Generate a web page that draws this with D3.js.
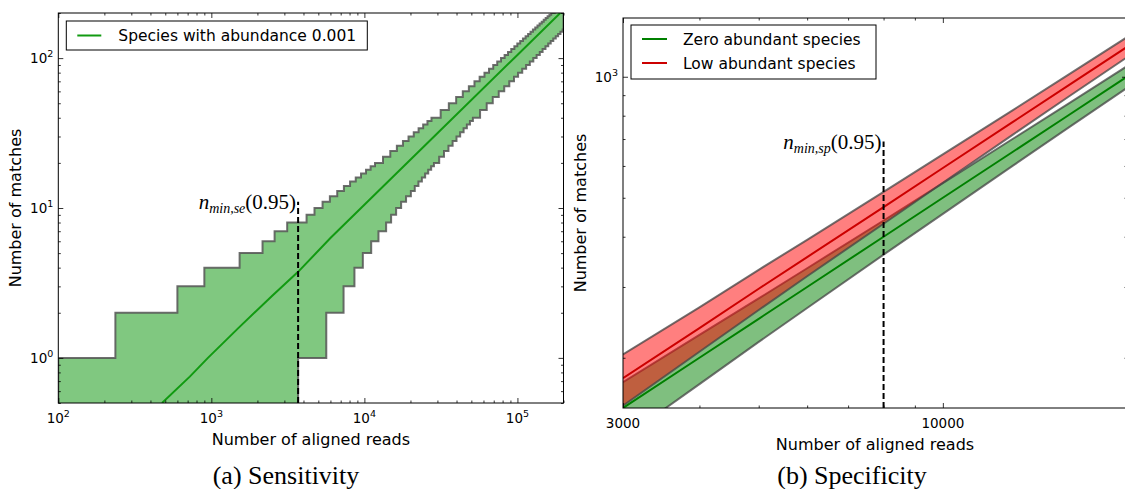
<!DOCTYPE html>
<html>
<head>
<meta charset="utf-8">
<script src="https://cdn.jsdelivr.net/npm/d3@7"></script>
<style>
  body { margin: 0; background: #fff; }
  text { font-family: "DejaVu Sans", sans-serif; fill: #000; }
  .serif { font-family: "Liberation Serif", "DejaVu Serif", serif; }
</style>
</head>
<body>
<svg id="chart" width="1125" height="489"></svg>
<script>
// ---- (a) Sensitivity data: [reads, matches] ----
const senseMean = [[476, 0.5], [723, 0.75], [950, 1.0], [1500, 1.58], [2500, 2.6], [3689, 3.75],
  [6000, 6.3], [10000, 10.5], [30000, 31.5], [100000, 105], [200000, 210]];
// upper step bound: value holds from reads[i] to reads[i+1]
const senseUpper = [[100, 1], [236, 2], [600, 3], [900, 4], [1530, 5], [2160, 6], [2590, 7], [3130, 8],
  [4190, 9], [4720, 10], [5330, 11], [5950, 12], [6645, 13], [7348, 14], [8060, 15], [8780, 16],
  [9507, 17], [10243, 18], [10982, 19], [11731, 20], [13238, 22], [14765, 24], [16301, 26],
  [17866, 28], [19430, 30], [21014, 32], [22608, 34], [24211, 36], [25824, 38], [27437, 40],
  [31507, 45], [35626, 50], [39773, 55], [43958, 60], [48154, 65], [52387, 70], [56630, 75],
  [60902, 80], [65184, 85], [69475, 90], [73786, 95], [78106, 100], [82464, 105], [86784, 110],
  [91104, 115], [95510, 120], [99840, 125], [104256, 130], [108672, 135], [113088, 140],
  [117408, 145], [121824, 150], [126240, 155], [130752, 160], [135168, 165], [139584, 170],
  [144096, 175], [148512, 180], [152928, 185], [157440, 190], [161856, 195], [166272, 200],
  [175296, 210], [184224, 220], [193152, 230], [200000, 230]];
// lower step bound (0 = below the axis)
const senseLower = [[100, 0], [3689, 1], [5636, 2], [7310, 3], [8610, 4], [9770, 5], [11080, 6],
  [12360, 7], [13870, 8], [14950, 9], [16120, 10], [17380, 11], [18720, 12], [20124, 13],
  [21341, 14], [22550, 15], [23750, 16], [24944, 17], [26129, 18], [27308, 19], [28481, 20],
  [30818, 22], [33130, 24], [35433, 26], [37716, 28], [39984, 30], [42243, 32], [44493, 34],
  [46733, 36], [48960, 38], [51180, 40], [57000, 45], [63000, 50], [69000, 55], [75500, 60],
  [82000, 65], [88500, 70], [95000, 75], [101000, 80], [107500, 85], [114000, 90], [120500, 95],
  [127000, 100], [133500, 105], [140000, 110], [146000, 115], [152500, 120], [159000, 125],
  [165000, 130], [171500, 135], [178000, 140], [184500, 145], [191000, 150], [197500, 155],
  [200000, 155]];
const senseThreshold = 3689;
const senseThresholdTop = 11;

// ---- (b) Specificity data ----
const specReads = [3000, 4000, 5000, 6000, 8000, 10000, 13000, 16000, 20000];
const zeroMean = [150, 200, 250, 300, 400, 500, 650, 800, 1000];
const zeroLow = [126, 172, 219, 266, 361, 456, 600, 745, 938];
const zeroHigh = [174, 228, 281, 334, 439, 544, 700, 855, 1062];
const lowMean = [178, 237, 297, 356, 474, 593, 771, 949, 1186];
const lowLow = [152, 207, 263, 319, 431, 545, 717, 889, 1118];
const lowHigh = [204, 267, 331, 393, 517, 641, 825, 1009, 1254];
const specThreshold = 8000;
const specThresholdTop = 690;

// ---- ticks ----
const senseXMajor = [1e2, 1e3, 1e4, 1e5];
const senseYMajor = [1e0, 1e1, 1e2];
const specXMajor = [3000, 10000];
const specYMajor = [1000];

const svg = d3.select("#chart");

const makePanel = (id, box, xDomain, yDomain) => {
  const w = box.x1 - box.x0;
  const h = box.y1 - box.y0;
  const g = svg.append("g").attr("transform", `translate(${box.x0},${box.y0})`);
  svg.append("clipPath").attr("id", id).append("rect").attr("width", w).attr("height", h)
    .attr("x", box.x0).attr("y", box.y0);
  const x = d3.scaleLog().domain(xDomain).range([0, w]);
  const y = d3.scaleLog().domain(yDomain).range([h, 0]);
  const plot = g.append("g").attr("clip-path", `url(#${id})`)
    .attr("transform", `translate(${-box.x0},${-box.y0})`)
    .append("g").attr("transform", `translate(${box.x0},${box.y0})`);
  return {g, plot, x, y, w, h};
};

const powLabel = (sel, v) => {
  const e = Math.round(Math.log10(v));
  sel.append("tspan").text("10");
  sel.append("tspan").attr("dy", -6).attr("font-size", 9.5).text(e);
};

const drawFrame = (p, xMajor, yMajor, xFmt, yFmt) => {
  const {g, x, y, w, h} = p;
  const xMinor = x.ticks().filter((t) => !xMajor.includes(t));
  const yMinor = y.ticks().filter((t) => !yMajor.includes(t));
  const tick = (axis, vals, len, tr) => {
    const a = g.append("g").attr("transform", tr)
      .call(axis.tickValues(vals).tickSize(-len).tickFormat(""));
    a.select(".domain").remove();
    a.selectAll("line").attr("stroke", "#000").attr("stroke-width", 0.8);
  };
  tick(d3.axisBottom(x), xMajor, 5, `translate(0,${h})`);
  tick(d3.axisBottom(x), xMinor, 2.5, `translate(0,${h})`);
  tick(d3.axisTop(x), xMajor, 5, null);
  tick(d3.axisTop(x), xMinor, 2.5, null);
  tick(d3.axisLeft(y), yMajor, 5, null);
  tick(d3.axisLeft(y), yMinor, 2.5, null);
  tick(d3.axisRight(y), yMajor, 5, `translate(${w},0)`);
  tick(d3.axisRight(y), yMinor, 2.5, `translate(${w},0)`);

  g.append("rect").attr("width", w).attr("height", h)
    .attr("fill", "none").attr("stroke", "#000").attr("stroke-width", 1);

  g.selectAll(".xl").data(xMajor).enter().append("text")
    .attr("x", (d) => x(d)).attr("y", h + 20)
    .attr("text-anchor", "middle").attr("font-size", 13.5)
    .each(function (d) { xFmt(d3.select(this), d); });
  g.selectAll(".yl").data(yMajor).enter().append("text")
    .attr("x", -5).attr("y", (d) => y(d) + 5)
    .attr("text-anchor", "end").attr("font-size", 13.5)
    .each(function (d) { yFmt(d3.select(this), d); });
};

const axisTitles = (p, box, yTitleX) => {
  svg.append("text").attr("x", (box.x0 + box.x1) / 2).attr("y", box.y1 + 42)
    .attr("text-anchor", "middle").attr("font-size", 16).text("Number of aligned reads");
  svg.append("text")
    .attr("transform", `translate(${yTitleX},${(box.y0 + box.y1) / 2}) rotate(-90)`)
    .attr("text-anchor", "middle").attr("font-size", 16).text("Number of matches");
};

const mathLabel = (g, xPos, yPos, sub) => {
  const t = g.append("text").attr("class", "serif").attr("x", xPos).attr("y", yPos)
    .attr("text-anchor", "end").attr("font-size", 21);
  t.append("tspan").attr("font-style", "italic").text("n");
  t.append("tspan").attr("font-style", "italic").attr("font-size", 14).attr("dy", 4).text(sub);
  t.append("tspan").attr("dy", -4).text("(0.95)");
};

// ================= (a) Sensitivity =================
const boxA = {x0: 58.3, x1: 563.5, y0: 13, y1: 403};
const pa = makePanel("clipA", boxA, [100, 2e5], [0.5, 200]);

// expand step arrays into polygon vertices
const steps = (pts) => {
  const out = [];
  pts.forEach((d, i) => {
    out.push(d);
    if (i < pts.length - 1) out.push([pts[i + 1][0], d[1]]);
  });
  return out;
};
const yA = (v) => (v > 0 ? pa.y(v) : pa.h + 20);
const bandPts = steps(senseUpper).concat(steps(senseLower).reverse());
pa.plot.append("path")
  .attr("d", d3.line().x((d) => pa.x(d[0])).y((d) => yA(d[1]))(bandPts) + "Z")
  .attr("fill", "#80c880")
  .attr("stroke", "#555")
  .attr("stroke-opacity", 0.85)
  .attr("stroke-width", 2)
  .attr("stroke-linejoin", "miter");

pa.plot.append("path")
  .attr("d", d3.line().x((d) => pa.x(d[0])).y((d) => pa.y(d[1]))(senseMean))
  .attr("fill", "none").attr("stroke", "#119a11").attr("stroke-width", 2);

pa.g.append("line")
  .attr("x1", pa.x(senseThreshold)).attr("x2", pa.x(senseThreshold))
  .attr("y1", pa.h).attr("y2", pa.y(senseThresholdTop))
  .attr("stroke", "#000").attr("stroke-width", 2).attr("stroke-dasharray", "6,3");
mathLabel(pa.g, pa.x(senseThreshold) - 2, pa.y(senseThresholdTop) + 7, "min,se");

drawFrame(pa, senseXMajor, senseYMajor, powLabel, powLabel);
axisTitles(pa, boxA, 21);

// legend (a)
const legA = pa.g.append("g").attr("transform", "translate(8,8)");
legA.append("rect").attr("width", 301).attr("height", 29)
  .attr("fill", "#fff").attr("stroke", "#000").attr("stroke-width", 1);
legA.append("line").attr("x1", 11).attr("x2", 35).attr("y1", 14.5).attr("y2", 14.5)
  .attr("stroke", "#119a11").attr("stroke-width", 2);
legA.append("text").attr("x", 52).attr("y", 20).attr("font-size", 15.5)
  .text("Species with abundance 0.001");

// ================= (b) Specificity =================
const boxB = {x0: 623, x1: 1127, y0: 18, y1: 408};
const pb = makePanel("clipB", boxB, [3000, 20000], [150, 1400]);

const bands = [
  {mean: zeroMean, lo: zeroLow, hi: zeroHigh, fill: "rgba(0,128,0,0.5)", line: "#008000"},
  {mean: lowMean, lo: lowLow, hi: lowHigh, fill: "rgba(255,0,0,0.5)", line: "#cc0000"},
];
const idx = specReads.map((d, i) => i);
bands.forEach((b) => {
  pb.plot.append("path")
    .attr("d", d3.area().x((i) => pb.x(specReads[i])).y0((i) => pb.y(b.lo[i])).y1((i) => pb.y(b.hi[i]))(idx))
    .attr("fill", b.fill);
  [b.lo, b.hi].forEach((edge) => {
    pb.plot.append("path")
      .attr("d", d3.line().x((i) => pb.x(specReads[i])).y((i) => pb.y(edge[i]))(idx))
      .attr("fill", "none").attr("stroke", "#444").attr("stroke-opacity", 0.75).attr("stroke-width", 2);
  });
});
bands.forEach((b) => {
  pb.plot.append("path")
    .attr("d", d3.line().x((i) => pb.x(specReads[i])).y((i) => pb.y(b.mean[i]))(idx))
    .attr("fill", "none").attr("stroke", b.line).attr("stroke-width", 2);
});

pb.g.append("line")
  .attr("x1", pb.x(specThreshold)).attr("x2", pb.x(specThreshold))
  .attr("y1", pb.h).attr("y2", pb.y(specThresholdTop))
  .attr("stroke", "#000").attr("stroke-width", 2).attr("stroke-dasharray", "6,3");
mathLabel(pb.g, pb.x(specThreshold) - 2, pb.y(specThresholdTop) + 7, "min,sp");

drawFrame(pb, specXMajor, specYMajor, (s, d) => s.text(d), powLabel);
axisTitles(pb, boxB, 586);

// legend (b)
const legB = pb.g.append("g").attr("transform", "translate(8,7)");
legB.append("rect").attr("width", 245).attr("height", 54)
  .attr("fill", "#fff").attr("stroke", "#000").attr("stroke-width", 1);
[["Zero abundant species", "#008000"], ["Low abundant species", "#cc0000"]].forEach(([label, c], i) => {
  legB.append("line").attr("x1", 11).attr("x2", 36).attr("y1", 14 + i * 24).attr("y2", 14 + i * 24)
    .attr("stroke", c).attr("stroke-width", 2);
  legB.append("text").attr("x", 52).attr("y", 19.5 + i * 24).attr("font-size", 15.5).text(label);
});

// captions
svg.append("text").attr("class", "serif").attr("x", 286).attr("y", 484)
  .attr("text-anchor", "middle").attr("font-size", 26).text("(a) Sensitivity");
svg.append("text").attr("class", "serif").attr("x", 852).attr("y", 484)
  .attr("text-anchor", "middle").attr("font-size", 26).text("(b) Specificity");
</script>
</body>
</html>
